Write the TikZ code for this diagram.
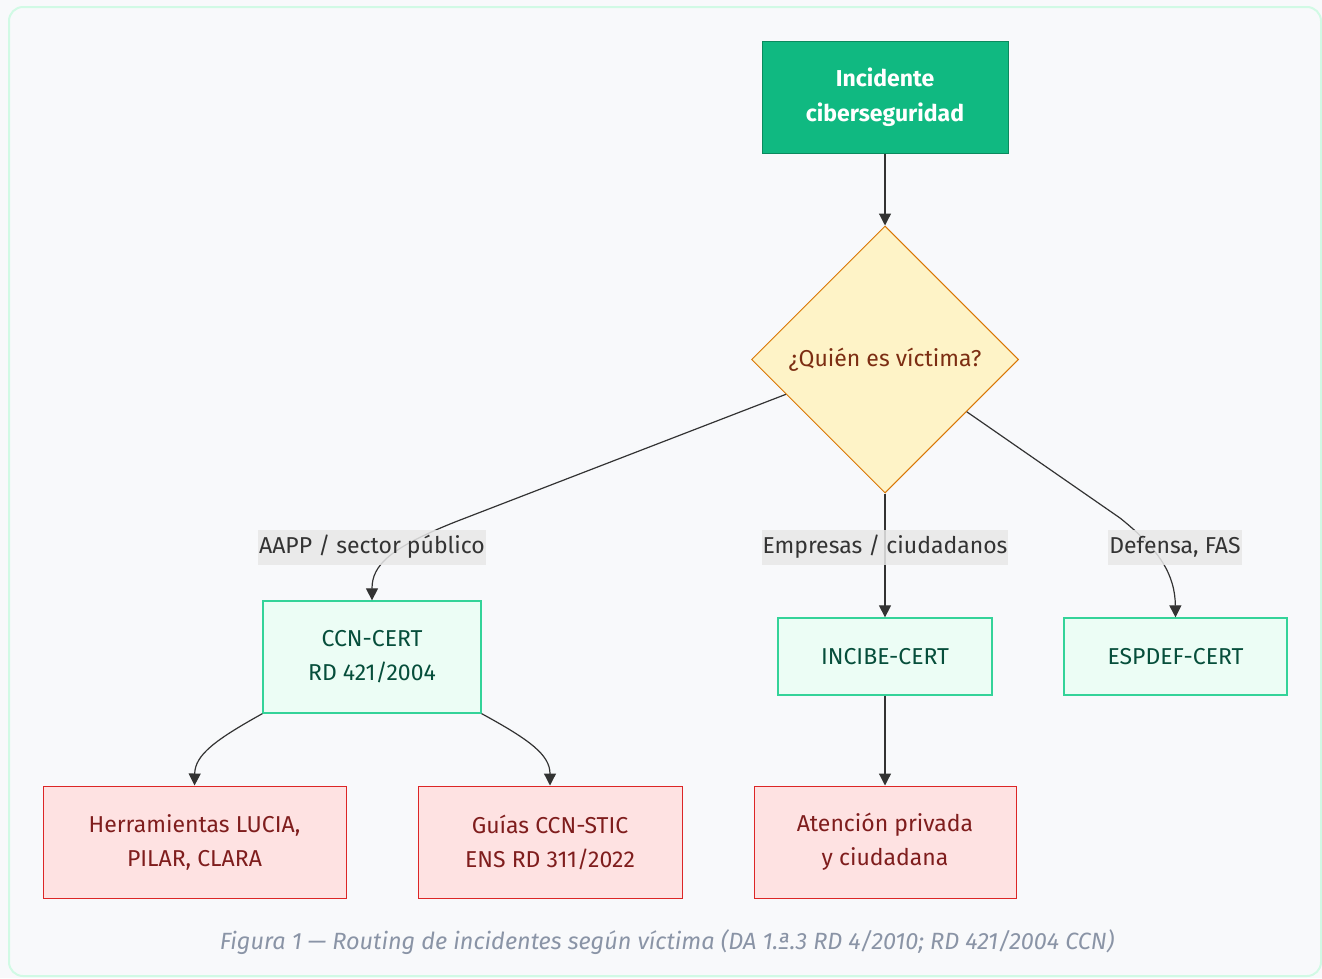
\documentclass[tikz,border=0pt]{standalone}
\usepackage{fontspec}
\setmainfont{Fira Sans}
\usetikzlibrary{arrows.meta,shapes.geometric,calc}
\definecolor{pagebg}{HTML}{F8F9FB}
\definecolor{frame}{HTML}{D1FAE5}
\definecolor{startfill}{HTML}{10B981}
\definecolor{startdraw}{HTML}{0B8A5E}
\definecolor{decfill}{HTML}{FEF3C7}
\definecolor{decdraw}{HTML}{D97706}
\definecolor{dectext}{HTML}{7C2D12}
\definecolor{certfill}{HTML}{ECFDF5}
\definecolor{certdraw}{HTML}{34D399}
\definecolor{certtext}{HTML}{064E3B}
\definecolor{toolfill}{HTML}{FEE2E2}
\definecolor{tooldraw}{HTML}{DC2626}
\definecolor{tooltext}{HTML}{7F1D1D}
\definecolor{edge}{HTML}{333333}
\definecolor{lblbg}{HTML}{E8E8E8}
\definecolor{captext}{HTML}{8A94A6}
\tikzset{
  base/.style={rectangle, align=center, font=\fontsize{23}{34}\selectfont, inner sep=0pt, line width=1pt},
  startbox/.style={base, fill=startfill, draw=startdraw, text=white, font=\fontsize{23}{35}\selectfont\bfseries},
  certbox/.style={base, fill=certfill, draw=certdraw, text=certtext, line width=1.3pt},
  toolbox/.style={base, fill=toolfill, draw=tooldraw, text=tooltext},
  decbox/.style={diamond, aspect=1, fill=decfill, draw=decdraw, text=dectext, font=\fontsize{23}{34}\selectfont, inner sep=0pt, line width=1pt},
  conn/.style={draw=edge, line width=1.2pt, -{Triangle[length=12pt,width=12pt]}},
  lbl/.style={fill=lblbg, fill opacity=0.85, text opacity=1, text=edge, font=\fontsize{23}{25}\selectfont, inner xsep=1pt, inner ysep=0pt, minimum height=35pt},
}
\begin{document}
\begin{tikzpicture}[x=1pt,y=-1pt]
\useasboundingbox (0,0) rectangle (1322,978);
\fill[pagebg] (0,0) rectangle (1322,978);
\draw[frame, line width=2pt, fill=pagebg, rounded corners=14pt] (9,7) rectangle (1321,976);

\node[startbox, minimum width=246pt, minimum height=112pt] (inc) at (885,97) {Incidente\\ciberseguridad};
\node[decbox, minimum width=267pt, minimum height=267pt] (dec) at (885,359.5) {¿Quién es víctima?};
\node[certbox, minimum width=218pt, minimum height=112pt] (ccn) at (372,657) {CCN-CERT\\RD 421/2004};
\node[certbox, minimum width=214pt, minimum height=77pt] (incibe) at (885,656.5) {INCIBE-CERT};
\node[certbox, minimum width=223pt, minimum height=77pt] (esp) at (1175.5,656.5) {ESPDEF-CERT};
\node[toolbox, minimum width=303pt, minimum height=112pt] (herr) at (194.5,842) {Herramientas LUCIA,\\PILAR, CLARA};
\node[toolbox, minimum width=264pt, minimum height=112pt] (guias) at (550,842) {Guías CCN-STIC\\ENS RD 311/2022};
\node[toolbox, minimum width=262pt, minimum height=112pt] (aten) at (885,842) {Atención privada\\y ciudadana};

\coordinate (dl) at ($(dec.west)!0.26!(dec.south)$);
\coordinate (dr) at ($(dec.east)!0.39!(dec.south)$);

\draw[conn] (inc.south) -- (dec.north);
\draw[conn] (dl) -- (455,522) .. controls (390,548) and (372,565) .. (ccn.north);
\draw[conn] (dec.south) -- (incibe.north);
\draw[conn] (dr) -- (1120,518) .. controls (1160,550) and (1175,575) .. (esp.north);
\draw[conn] (ccn.south west) .. controls (215,740) and (195,755) .. (herr.north);
\draw[conn] (ccn.south east) .. controls (530,740) and (550,755) .. (guias.north);
\draw[conn] (incibe.south) -- (aten.north);

\node[lbl] (l1) at (372,547) {AAPP / sector público};
\node[lbl] (l2) at (885,547) {Empresas / ciudadanos};
\node[lbl] (l3) at (1175,547) {Defensa, FAS};

\node[text=captext, font=\fontsize{23.5}{27}\selectfont\itshape] (cap) at (667,942) {Figura 1 — Routing de incidentes según víctima (DA 1.ª.3 RD 4/2010; RD 421/2004 CCN)};
\end{tikzpicture}
\end{document}
